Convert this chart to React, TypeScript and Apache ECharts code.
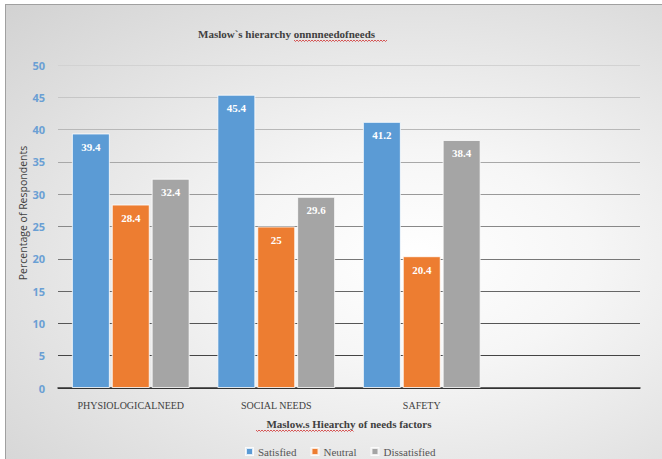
import React, { useEffect, useRef } from "react";
import * as echarts from "echarts";

const categories = ["PHYSIOLOGICALNEED", "SOCIAL NEEDS", "SAFETY", ""];
const satisfied = [39.4, 45.4, 41.2];
const neutral = [28.4, 25, 20.4];
const dissatisfied = [32.4, 29.6, 38.4];
const seriesNames = ["Satisfied", "Neutral", "Dissatisfied"];
const colors = ["#5b9bd5", "#ed7d31", "#a5a5a5"];
const yTicks = { min: 0, max: 50, interval: 5 };

const serif = "Liberation Serif";
const sans = "Open Sans";

function wavy(x0: number, x1: number, y: number): number[][] {
  const pts: number[][] = [];
  let i = 0;
  for (let x = x0; x <= x1; x += 1.5) {
    pts.push([x, y + (i % 2 === 0 ? 0 : 1.5)]);
    i++;
  }
  return pts;
}

export default function App() {
  const ref = useRef<HTMLDivElement>(null);
  useEffect(() => {
    if (!ref.current) return;
    const chart = echarts.init(ref.current, null, { renderer: "svg" });
    const mk = (name: string, data: number[], color: string) => ({
      name,
      type: "bar",
      data,
      barWidth: 38,
      barGap: "5%",
      itemStyle: { color, borderColor: "rgba(255,255,255,0.8)", borderWidth: 1 },
      label: {
        show: true,
        position: "insideTop",
        distance: 8,
        color: "#ffffff",
        fontFamily: serif,
        fontWeight: "bold",
        fontSize: 11,
      },
    });
    chart.setOption({
      animation: false,
      backgroundColor: "transparent",
      textStyle: { fontFamily: serif },
      title: {
        text: "Maslow`s hierarchy onnnneedofneeds",
        left: 193,
        top: 23,
        textStyle: { fontFamily: serif, fontWeight: "bold", fontSize: 11, color: "#404040" },
      },
      legend: {
        data: seriesNames,
        left: 240,
        top: 441,
        itemWidth: 7,
        itemHeight: 7,
        itemGap: 14,
        icon: "rect",
        textStyle: { fontFamily: serif, fontSize: 11, color: "#555" },
      },
      grid: { left: 58, right: 22, top: 65, bottom: 71 },
      xAxis: {
        type: "category",
        data: categories,
        name: "Maslow.s Hiearchy of needs factors",
        nameLocation: "middle",
        nameGap: 30,
        nameTextStyle: { fontFamily: serif, fontWeight: "bold", fontSize: 11, color: "#404040" },
        axisTick: { show: false },
        axisLine: { lineStyle: { color: "#333", width: 1.5 } },
        axisLabel: { interval: 0, margin: 12, fontFamily: serif, fontSize: 10, color: "#404040" },
      },
      yAxis: {
        type: "value",
        min: yTicks.min,
        max: yTicks.max,
        interval: yTicks.interval,
        axisLine: { show: false },
        axisTick: { show: false },
        axisLabel: { margin: 13, fontFamily: sans, fontWeight: "bold", fontSize: 11, color: "#6a9fd4" },
        splitLine: {
          lineStyle: {
            width: 1.2,
            color: ["#333", "#444", "#555", "#666", "#777", "#888", "#999", "#a8a8a8", "#b8b8b8", "#c6c6c6", "#d2d2d2"],
          },
        },
      },
      graphic: [
        {
          type: "text",
          x: 23,
          y: 213,
          rotation: Math.PI / 2,
          style: {
            text: "Percentage of Respondents",
            fontFamily: sans,
            fontSize: 10.5,
            fill: "#404040",
            align: "center",
            verticalAlign: "middle",
          },
        },
        { type: "polyline", shape: { points: wavy(294, 388, 40) }, style: { stroke: "#d03030", lineWidth: 0.8, fill: null } },
        { type: "polyline", shape: { points: wavy(256, 354, 430) }, style: { stroke: "#d03030", lineWidth: 0.8, fill: null } },
      ],
      series: [
        mk(seriesNames[0], satisfied, colors[0]),
        mk(seriesNames[1], neutral, colors[1]),
        mk(seriesNames[2], dissatisfied, colors[2]),
      ],
    });
    return () => chart.dispose();
  }, []);
  return (
    <div style={{ position: "absolute", left: 0, top: 0, width: 662, height: 459, background: "#fff", overflow: "hidden" }}>
      <div
        style={{
          position: "absolute",
          left: 5,
          top: 4,
          width: 662,
          height: 460,
          borderLeft: "1px solid #a0a0a0",
          borderTop: "1px solid #a0a0a0",
          background: "radial-gradient(ellipse at 62% 55%, #ffffff 0%, #f6f6f6 30%, #d2d2d2 100%)",
        }}
      />
      <div ref={ref} style={{ position: "absolute", left: 0, top: 0, width: 662, height: 459 }} />
    </div>
  );
}
